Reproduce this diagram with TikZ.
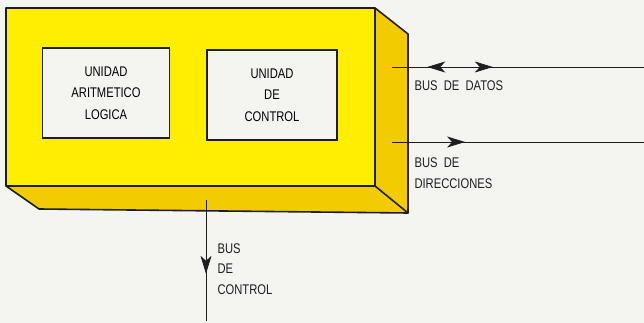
\documentclass[tikz,border=0pt]{standalone}
\usepackage{fontspec}
\setmainfont{Liberation Sans}
\newfontfamily\cpufont[FakeStretch=0.8]{Liberation Sans}
\usepackage{tikz}
\usetikzlibrary{arrows.meta, decorations.markings}
\definecolor{cpupaper}{HTML}{F4F4F1}
\definecolor{cpufront}{HTML}{FFEE00}
\definecolor{cpuside}{HTML}{F2CC00}
\definecolor{cpuink}{HTML}{1E1E1E}

\begin{document}
\begin{tikzpicture}[x=1pt, y=-1pt,
  face/.style={draw=cpuink, line width=1.6pt, line join=round},
  unit/.style={draw=cpuink, fill=cpupaper, line width=1.3pt, align=center, inner sep=0pt,
    font=\cpufont\fontsize{14}{21.5}\selectfont},
  lbl/.style={align=left, anchor=west, font=\cpufont\fontsize{14}{20.5}\selectfont, text=cpuink},
  bus/.style={cpuink, line width=0.8pt},
  tip/.style={-, postaction={decorate, decoration={markings, #1}}},
  head/.tip={Stealth[length=18pt, width=11pt, inset=5pt]}
]
  \fill[cpupaper] (0,0) rectangle (644,323);
  \useasboundingbox (0,0) rectangle (644,323);

  \fill[cpuside] (6,186) -- (39,209) -- (408,213) -- (375,186) -- cycle;
  \fill[cpuside] (375,8) -- (408,34) -- (408,213) -- (375,186) -- cycle;
  \draw[face] (6,186) -- (39,209) -- (408,213) -- (408,34) -- (375,8);
  \draw[face] (375,186) -- (408,213);
  \draw[face, fill=cpufront] (6,8) rectangle (375,186);

  \node[unit, minimum width=127pt, minimum height=90pt] (alu) at (106,93) {UNIDAD\\ARITMETICO\\LOGICA};
  \node[unit, minimum width=130pt, minimum height=90pt] (uc) at (272,95) {UNIDAD\\DE\\CONTROL};

  \coordinate (datosIn) at (392,67);
  \coordinate (datosOut) at (644,67);
  \coordinate (dirIn) at (392,142);
  \coordinate (dirOut) at (644,142);
  \coordinate (ctrlIn) at (206,200);
  \coordinate (ctrlOut) at (206,321);

  \draw[bus, tip={mark=at position 0.14 with {\arrowreversed{head}}, mark=at position 0.4 with {\arrow{head}}}] (datosIn) -- (datosOut);
  \draw[bus, tip={mark=at position 0.29 with {\arrow{head}}}] (dirIn) -- (dirOut);
  \draw[bus, tip={mark=at position 0.61 with {\arrow{head}}}] (ctrlIn) -- (ctrlOut);

  \node[lbl] (datos) at (411,86) {BUS\ \ DE\ \ DATOS};
  \node[lbl] (dir) at (411,173) {BUS\ \ DE\\DIRECCIONES};
  \node[lbl] (ctrl) at (214,269) {BUS\\DE\\CONTROL};
\end{tikzpicture}
\end{document}
